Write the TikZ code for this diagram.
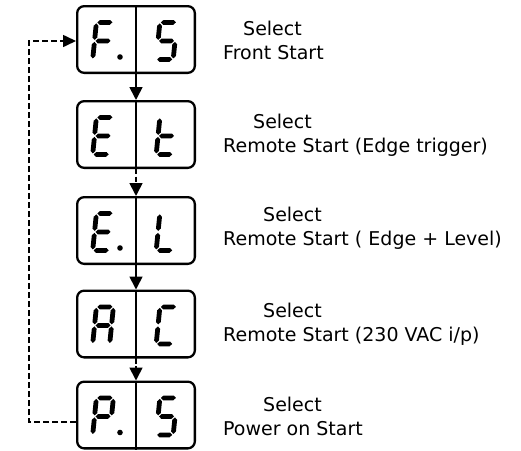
\documentclass[tikz,border=0pt]{standalone}
\usepackage{fontspec}
\setmainfont{DejaVu Sans}
\usepackage{tikz}
\usetikzlibrary{arrows.meta, positioning, calc}

% seven segment pieces, local frame: w=17, h=37, y downwards
\newcommand{\hseg}[3]{\fill (#1,#3) -- ++(2.4,-2.4) -- ({#2-2.4},{#3-2.4}) -- (#2,#3) -- ({#2-2.4},{#3+2.4}) -- ({#1+2.4},{#3+2.4}) -- cycle;}
\newcommand{\vseg}[3]{\fill (#1,#2) -- ++(2.4,2.4) -- ({#1+2.4},{#3-2.4}) -- (#1,#3) -- ({#1-2.4},{#3-2.4}) -- ({#1-2.4},{#2+2.4}) -- cycle;}
\newcommand{\sega}{\hseg{1}{16}{0}}
\newcommand{\segb}{\vseg{17}{1}{17.5}}
\newcommand{\segc}{\vseg{17}{19.5}{36}}
\newcommand{\segd}{\hseg{1}{16}{37}}
\newcommand{\sege}{\vseg{0}{19.5}{36}}
\newcommand{\segf}{\vseg{0}{1}{17.5}}
\newcommand{\segg}{\hseg{1}{16}{18.5}}
\newcommand{\segdigit}[2]{%
  \begin{scope}[shift={(#1)}, xslant=0.1]
    \foreach \s in {#2} {\csname seg\s\endcsname}
  \end{scope}}

\begin{document}
\begin{tikzpicture}[x=1pt, y=-1pt,
    dispbox/.style={draw, line width=2.3pt, rounded corners=7pt,
      minimum width=117.7pt, minimum height=66.7pt, inner sep=0pt},
    divider/.style={line width=1.1pt},
    flow/.style={line width=1.7pt, -{Triangle[length=13pt, width=13pt]}},
    flowdash/.style={flow, dash pattern=on 5pt off 2.5pt},
    loopline/.style={line width=1.6pt, dash pattern=on 6pt off 3pt,
      -{Triangle[length=13pt, width=12pt]}},
    modetext/.style={anchor=base west, align=left, inner sep=0pt,
      font=\fontsize{19}{24}\selectfont}]
  \useasboundingbox (0,0) rectangle (521,450);

  % Displays
  \node[dispbox] (fs) at (136,39.5) {};
  \node[dispbox] (et) at (136,134.5) {};
  \node[dispbox] (el) at (136,230.5) {};
  \node[dispbox] (ac) at (136,324) {};
  \node[dispbox] (ps) at (136,415) {};
  \foreach \d in {fs, et, el, ac, ps}
    \draw[divider] (\d.north) -- (\d.south);

  % Digits
  \segdigit{$(fs.center)+(-39.6,-17.1)$}{a,f,e,g}
  \segdigit{$(fs.center)+(23.9,-17.1)$}{a,f,g,c,d}
  \fill ($(fs.center)+(-16,17.5)$) circle (2.8);
  \segdigit{$(et.center)+(-39.6,-17.1)$}{a,f,g,e,d}
  \segdigit{$(et.center)+(23.9,-17.1)$}{f,e,g,d}
  \segdigit{$(el.center)+(-39.6,-17.1)$}{a,f,g,e,d}
  \segdigit{$(el.center)+(23.9,-17.1)$}{f,e,d}
  \fill ($(el.center)+(-16,17.5)$) circle (2.8);
  \segdigit{$(ac.center)+(-39.6,-17.1)$}{a,b,c,e,f,g}
  \segdigit{$(ac.center)+(23.9,-17.1)$}{a,f,e,d}
  \segdigit{$(ps.center)+(-39.6,-17.1)$}{a,b,f,g,e}
  \segdigit{$(ps.center)+(23.9,-17.1)$}{a,f,g,c,d}
  \fill ($(ps.center)+(-16,17.5)$) circle (2.8);

  % Flow down
  \draw[flow] (fs.south) -- (et.north);
  \draw[flowdash] (et.south) -- (el.north);
  \draw[flow] (el.south) -- (ac.north);
  \draw[flowdash] (ac.south) -- (ps.north);

  % Back to the top
  \coordinate (loopb) at (29,422);
  \coordinate (loopt) at (29,41);
  \draw[loopline] (loopb -| ps.west) -- (loopb) -- (loopt) -- (loopt -| fs.west);

  % Texts
  \node[modetext] (tfs) at (223,59) {\hspace*{20pt}Select\\Front Start};
  \node[modetext] (tet) at (223,152) {\hspace*{30pt}Select\\Remote Start (Edge trigger)};
  \node[modetext] (tel) at (223,245) {\hspace*{40pt}Select\\Remote Start ( Edge + Level)};
  \node[modetext] (tac) at (223,341) {\hspace*{40pt}Select\\Remote Start (230 VAC i/p)};
  \node[modetext] (tps) at (223,435) {\hspace*{40pt}Select\\Power on Start};
\end{tikzpicture}
\end{document}
